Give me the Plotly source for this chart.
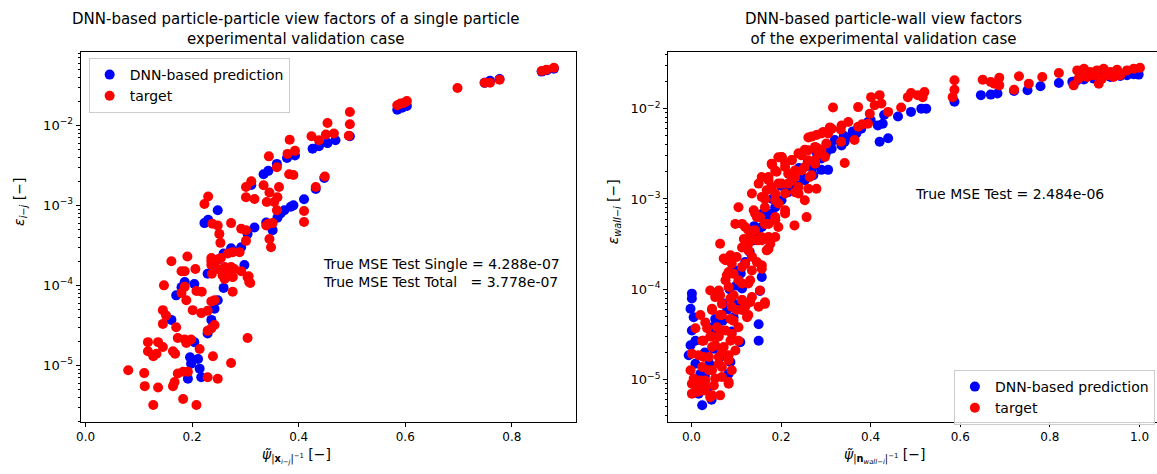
import plotly.graph_objects as go

# ---------------- data: particle-particle (left) ----------------
pp_pred = [
    (0.856, 0.047), (0.866, 0.049), (0.879, 0.051), (0.749, 0.034), (0.759, 0.036), (0.777, 0.038),
    (0.585, 0.0157), (0.594, 0.0166), (0.603, 0.0175), (0.496, 0.0073),
    (0.426, 0.0051), (0.438, 0.0055), (0.454, 0.0060), (0.469, 0.0065),
    (0.378, 0.0039), (0.393, 0.0042), (0.359, 0.0033), (0.334, 0.00245), (0.343, 0.0027),
    (0.448, 0.0022), (0.432, 0.0016), (0.410, 0.00119), (0.385, 0.00096), (0.390, 0.0010),
    (0.311, 0.0018), (0.339, 0.00061), (0.351, 0.00049), (0.360, 0.0007), (0.366, 0.00079),
    (0.373, 0.00087), (0.317, 0.00053), (0.304, 0.00044), (0.292, 0.0003), (0.298, 0.00018),
    (0.273, 0.00029), (0.259, 0.00025), (0.249, 0.00021), (0.240, 0.00019), (0.259, 9.3e-5),
    (0.223, 0.0006), (0.230, 0.00066), (0.248, 0.00087), (0.229, 0.00014), (0.186, 0.00011),
    (0.204, 0.000104), (0.170, 7.5e-5), (0.180, 9.5e-5), (0.248, 6.5e-5), (0.242, 5.1e-5),
    (0.236, 3.7e-5), (0.229, 2.5e-5), (0.161, 3.7e-5), (0.204, 1.95e-5), (0.196, 1.26e-5),
    (0.198, 1.05e-5), (0.192, 6.8e-6), (0.214, 9.1e-6), (0.217, 7.1e-6), (0.211, 1.2e-5),
]
pp_target = [
    (0.856, 0.0478), (0.865, 0.0497), (0.879, 0.0526), (0.749, 0.0341), (0.759, 0.0341), (0.777, 0.0372),
    (0.698, 0.0293), (0.585, 0.0178), (0.591, 0.0187), (0.597, 0.019), (0.603, 0.0201),
    (0.496, 0.0147), (0.496, 0.0103), (0.494, 0.0074), (0.454, 0.0107), (0.466, 0.0079), (0.451, 0.0077),
    (0.424, 0.0073), (0.438, 0.0065), (0.383, 0.0066), (0.379, 0.0044), (0.393, 0.0048),
    (0.344, 0.0041), (0.359, 0.003), (0.382, 0.00245), (0.390, 0.0024), (0.449, 0.0023), (0.432, 0.0017),
    (0.410, 0.00085), (0.410, 0.00062), (0.334, 0.00178), (0.345, 0.00145), (0.340, 0.0011),
    (0.360, 0.00126), (0.363, 0.0017), (0.354, 0.0011), (0.359, 0.00087), (0.343, 0.00059),
    (0.351, 0.0006), (0.339, 0.00056), (0.345, 0.00038), (0.348, 0.0003),
    (0.301, 0.0017), (0.311, 0.002), (0.301, 0.00126), (0.317, 0.0012),
    (0.273, 0.0006), (0.292, 0.00051), (0.301, 0.00049), (0.301, 0.00036),
    (0.254, 0.00022), (0.267, 0.00025), (0.276, 0.00026), (0.236, 0.0002), (0.241, 0.00017),
    (0.248, 0.00016), (0.237, 0.00014), (0.267, 0.000155), (0.276, 0.000127), (0.261, 0.00012),
    (0.279, 0.00016), (0.304, 0.000126), (0.307, 0.00011), (0.276, 8.3e-5),
    (0.223, 0.00104), (0.230, 0.00129), (0.238, 0.00059), (0.248, 0.00056), (0.251, 0.00044),
    (0.253, 0.00034), (0.161, 2.0e-4), (0.191, 2.3e-4), (0.180, 1.5e-4), (0.186, 1.5e-4),
    (0.206, 1.6e-4), (0.147, 1.0e-4), (0.186, 9.6e-5), (0.180, 8e-5), (0.189, 6.5e-5),
    (0.208, 8.5e-5), (0.218, 8.3e-5), (0.236, 2.2e-4), (0.248, 2.1e-4), (0.242, 1.7e-4),
    (0.236, 1.8e-4), (0.261, 1.7e-4), (0.273, 1.7e-4), (0.270, 1.4e-4), (0.257, 1.33e-4),
    (0.276, 1.27e-4), (0.292, 1.5e-4), (0.306, 1.3e-4), (0.309, 1.07e-4), (0.289, 2.6e-4),
    (0.201, 4.9e-5), (0.217, 4.5e-5), (0.229, 4.8e-5), (0.242, 6.5e-5), (0.236, 6.3e-5),
    (0.145, 4.9e-5), (0.151, 4.2e-5), (0.145, 3.3e-5), (0.170, 3.0e-5), (0.229, 2.7e-5),
    (0.242, 3.2e-5), (0.236, 2.9e-5), (0.173, 2.2e-5), (0.186, 2.1e-5), (0.198, 2.1e-5),
    (0.189, 1.9e-5), (0.214, 1.6e-5), (0.117, 1.95e-5), (0.136, 1.95e-5), (0.145, 1.7e-5),
    (0.117, 1.5e-5), (0.133, 1.4e-5), (0.127, 1.3e-5), (0.164, 1.5e-5), (0.168, 1.4e-5),
    (0.304, 2.2e-5), (0.239, 1.3e-5), (0.273, 1.07e-5), (0.080, 8.7e-6), (0.110, 8e-6),
    (0.173, 7.9e-6), (0.183, 8.3e-6), (0.192, 8.3e-6), (0.229, 7.1e-6), (0.248, 6.8e-6),
    (0.111, 5.5e-6), (0.136, 5.3e-6), (0.164, 5.5e-6), (0.167, 6.2e-6), (0.183, 3.8e-6),
    (0.127, 3.2e-6), (0.208, 3.2e-6),
]

# ---------------- data: particle-wall (right) ----------------
pw_pred = [
    (0.587, 0.0119), (0.646, 0.0141), (0.668, 0.0143), (0.683, 0.0147), (0.720, 0.0157),
    (0.750, 0.016), (0.779, 0.0177), (0.820, 0.0192), (0.861, 0.0206), (0.898, 0.0215),
    (0.935, 0.0224), (0.972, 0.0234), (0.998, 0.0238), (0.876, 0.021), (0.913, 0.022),
    (0.957, 0.023), (0.987, 0.024), (0.850, 0.0198),
    (0.461, 0.0082), (0.490, 0.0092), (0.513, 0.010), (0.524, 0.010), (0.394, 0.0071),
    (0.416, 0.0065), (0.427, 0.0068), (0.420, 0.0043), (0.439, 0.0047), (0.379, 0.006),
    (0.368, 0.0053), (0.357, 0.0049), (0.342, 0.0043), (0.320, 0.0045), (0.313, 0.0036),
    (0.335, 0.0039), (0.305, 0.0021), (0.290, 0.0021), (0.272, 0.00183), (0.253, 0.00161),
    (0.235, 0.00142), (0.216, 0.00119), (0.201, 0.00097), (0.187, 0.00081), (0.179, 0.00069),
    (0.168, 0.00058), (0.157, 0.00049), (0.146, 0.00041), (0.139, 0.00035),
    (0.220, 0.0013), (0.250, 0.0017), (0.270, 0.0022), (0.290, 0.0028), (0.300, 0.0032),
    (0.001, 8.95e-5), (0.001, 7.9e-5), (-0.002, 6.1e-5), (0.005, 4.9e-5), (0.001, 3.5e-5),
    (-0.002, 2.4e-5), (0.009, 2.7e-5), (-0.006, 1.86e-5), (0.009, 1.5e-5), (0.020, 1.16e-5),
    (0.024, 9.0e-6), (0.016, 7.0e-6), (0.024, 5.2e-6), (0.157, 1.37e-4), (0.153, 9.6e-5),
    (0.150, 4.1e-5), (0.150, 2.7e-5), (0.109, 2.6e-5), (0.090, 3.4e-5), (0.094, 4.9e-5),
    (0.101, 6.7e-5), (0.053, 4.7e-5), (0.046, 3.8e-5), (0.064, 1.78e-5), (0.087, 1.57e-5),
    (0.083, 1.16e-5), (0.113, 1.02e-4), (0.120, 2.0e-4), (0.130, 2.6e-4), (0.110, 1.5e-4),
    (0.100, 1.1e-4), (0.090, 8e-5), (0.080, 6e-5), (0.070, 4.5e-5), (0.060, 3e-5),
    (0.050, 2.2e-5), (0.040, 1.5e-5), (0.030, 1.1e-5), (0.035, 8e-6), (0.045, 6e-6),
    (0.030, 2.0e-5), (0.050, 3.5e-5), (0.070, 7e-5), (0.085, 1.0e-4), (0.100, 1.6e-4),
    (0.120, 3.0e-4), (0.140, 5.0e-4), (0.160, 7.0e-4), (0.180, 1.0e-3), (0.200, 1.4e-3),
    (0.240, 2.2e-3), (0.260, 2.6e-3), (0.280, 3.2e-3), (0.310, 3.8e-3), (0.340, 5.0e-3),
    (0.360, 5.6e-3), (0.400, 7.5e-3), (0.430, 8.5e-3),
]
pw_target = [
    (0.861, 0.0265), (0.876, 0.0277), (0.890, 0.0255), (0.905, 0.0265), (0.920, 0.0277),
    (0.935, 0.0255), (0.950, 0.027), (0.972, 0.0265), (0.987, 0.0277), (1.001, 0.0284),
    (0.864, 0.0215), (0.883, 0.0224), (0.898, 0.0234), (0.909, 0.0189), (0.853, 0.0181),
    (0.927, 0.0234), (0.942, 0.0224), (0.957, 0.0234), (0.868, 0.0244), (0.916, 0.0215),
    (0.820, 0.0248), (0.783, 0.0224), (0.753, 0.0189), (0.731, 0.0228), (0.720, 0.0162),
    (0.687, 0.022), (0.668, 0.0197), (0.650, 0.0209), (0.676, 0.0189), (0.687, 0.0181),
    (0.587, 0.0206), (0.587, 0.0162), (0.583, 0.0134), (0.520, 0.0153), (0.505, 0.0141),
    (0.490, 0.0149), (0.516, 0.0134), (0.483, 0.0134), (0.468, 0.0103), (0.420, 0.0141),
    (0.401, 0.0134), (0.424, 0.0114), (0.439, 0.0092), (0.409, 0.0109), (0.398, 0.0088),
    (0.372, 0.0104), (0.381, 0.0067), (0.316, 0.0103), (0.350, 0.0071), (0.333, 0.0059),
    (0.309, 0.0062), (0.294, 0.0055), (0.279, 0.0051), (0.334, 0.0043), (0.364, 0.0045),
    (0.342, 0.0025), (0.261, 0.0048), (0.253, 0.0035), (0.239, 0.0032), (0.224, 0.0027),
    (0.209, 0.0025), (0.194, 0.0029), (0.180, 0.0024), (0.202, 0.0029), (0.172, 0.00175),
    (0.150, 0.00148), (0.157, 0.00105), (0.190, 0.002), (0.168, 0.00125), (0.194, 0.00148),
    (0.216, 0.0019), (0.253, 0.00097), (0.257, 0.00063), (0.230, 0.00051), (0.279, 0.0013),
    (0.239, 0.00136), (0.105, 0.00081), (0.098, 0.00053), (0.113, 0.00053), (0.127, 0.00045),
    (0.139, 0.00075), (0.146, 0.00063), (0.157, 0.00038), (0.176, 0.00032), (0.194, 0.00049),
    (0.064, 0.00032), (0.113, 0.00029), (0.127, 0.00027), (0.146, 0.00035), (0.168, 0.00027),
    (0.117, 0.00036), (0.135, 0.00023), (0.246, 0.00207), (0.261, 0.00268), (0.276, 0.00246),
    (0.283, 0.00318), (0.231, 0.00175), (0.216, 0.00148), (0.239, 0.00115), (0.264, 0.00175),
    (0.290, 0.00346), (0.301, 0.0041), (0.305, 0.0053), (0.276, 0.00377), (0.194, 0.00089),
    (0.209, 0.00075), (0.187, 0.00063), (0.172, 0.00053), (0.164, 0.00081), (0.153, 0.00063),
    (0.209, 0.00115), (0.187, 0.00115),
    (0.072, 2.19e-4), (0.090, 1.92e-4), (0.113, 1.77e-4), (0.135, 1.62e-4), (0.157, 1.69e-4),
    (0.083, 1.55e-4), (0.105, 1.26e-4), (0.127, 1.16e-4), (0.153, 9.7e-5), (0.076, 1.26e-4),
    (0.061, 9.7e-5), (0.042, 9.7e-5), (0.053, 8.2e-5), (0.087, 7.9e-5), (0.113, 7.6e-5),
    (0.135, 8.2e-5), (0.120, 6.4e-5), (0.046, 6.1e-5), (0.068, 5.2e-5), (0.101, 5.9e-5),
    (0.124, 4.9e-5), (0.150, 6.4e-5), (0.164, 6.9e-5), (0.105, 3.8e-5), (0.094, 4.5e-5),
    (0.076, 3.5e-5), (0.087, 2.7e-5), (0.057, 3.8e-5), (0.042, 3.0e-5), (0.035, 3.7e-5),
    (0.009, 3.7e-5), (0.024, 2.7e-5), (0.001, 1.94e-5), (-0.002, 1.27e-5), (0.001, 9.0e-6),
    (0.013, 7.3e-6), (0.020, 9.8e-6), (0.039, 1.27e-5), (0.061, 1.5e-5), (0.050, 8.6e-6),
    (0.068, 1.07e-5), (0.083, 9.0e-6), (0.064, 6.7e-6), (0.042, 6.4e-6), (0.031, 7.6e-6),
    (0.090, 1.27e-5), (0.098, 2.1e-5), (0.068, 2.1e-5), (0.046, 2.3e-5), (0.083, 1.64e-5),
    (0.027, 1.78e-5), (0.061, 3.0e-5),
    (0.087, 2.38e-4), (0.076, 2.1e-4), (0.101, 2.28e-4), (0.124, 2.95e-4), (0.131, 3.8e-4),
    (0.157, 3.5e-4), (0.172, 2.8e-4), (0.187, 3.8e-4), (0.120, 1.92e-4), (0.146, 2.0e-4),
    (0.157, 1.85e-4), (0.079, 1.43e-4), (0.094, 1.49e-4), (0.113, 1.16e-4), (0.131, 1.26e-4),
    (0.083, 1.06e-4), (0.064, 8.6e-5), (0.094, 8.6e-5), (0.113, 7.6e-5), (0.131, 7.2e-5),
    (0.068, 6.9e-5), (0.090, 6.4e-5), (0.046, 5.9e-5), (0.020, 5.2e-5), (0.031, 4.3e-5),
    (0.064, 5.2e-5), (0.087, 4.7e-5), (0.113, 5.9e-5), (0.127, 5.2e-5), (0.164, 7.2e-5),
    (0.027, 2.7e-5), (0.046, 3.0e-5), (0.068, 3.5e-5), (0.090, 3.2e-5), (0.105, 2.7e-5),
    (0.053, 2.4e-5), (0.072, 2.3e-5), (0.016, 1.86e-5), (0.039, 1.78e-5), (0.061, 1.78e-5),
    (0.083, 1.86e-5), (0.024, 1.38e-5), (0.046, 1.27e-5), (0.068, 1.38e-5), (0.005, 1.03e-5),
    (0.031, 9.8e-6), (0.053, 1.03e-5), (0.083, 9.4e-6), (0.001, 7.0e-6), (0.024, 7.6e-6),
    (0.046, 6.7e-6), (0.009, 8.6e-6), (0.031, 8.3e-6),
    (0.179, 2.46e-3), (0.201, 2.92e-3), (0.224, 2.68e-3), (0.246, 3.04e-3), (0.261, 3.46e-3),
    (0.283, 3.6e-3), (0.157, 1.75e-3), (0.172, 1.61e-3), (0.187, 2.07e-3), (0.209, 2.26e-3),
    (0.231, 2.07e-3), (0.253, 2.26e-3), (0.276, 2.68e-3), (0.298, 2.92e-3), (0.135, 1.15e-3),
    (0.179, 1.36e-3), (0.201, 1.48e-3), (0.224, 1.61e-3), (0.268, 1.83e-3), (0.142, 6.9e-4),
    (0.164, 1.0e-3), (0.187, 9.7e-4), (0.231, 1.19e-3), (0.261, 1.3e-3), (0.120, 4.9e-4),
    (0.142, 4.5e-4), (0.164, 5.3e-4), (0.187, 5.8e-4), (0.209, 6.9e-4), (0.127, 3.2e-4),
    (0.150, 3.5e-4), (0.172, 3.8e-4), (0.290, 5.3e-3), (0.313, 6.0e-3), (0.335, 6.5e-3),
    (0.372, 6.3e-3), (0.394, 6.8e-3), (0.268, 4.9e-3),
]

x_ticks_left = [0.0, 0.2, 0.4, 0.6, 0.8]
x_ticks_right = [0.0, 0.2, 0.4, 0.6, 0.8, 1.0]
y_decades = [1e-5, 1e-4, 1e-3, 1e-2]
y_decade_labels = ["10<sup>\u22125</sup>", "10<sup>\u22124</sup>", "10<sup>\u22123</sup>", "10<sup>\u22122</sup>"]
minor_vals = [k * 10.0 ** e for e in range(-7, 0) for k in range(2, 10)]

W, H = 1157, 474
FONT = "DejaVu Sans"
BLUE, RED = "#0000ff", "#ff0000"


def px_x(p):
    return p / W


def px_y(p):
    return 1 - p / H


def unzip(pairs):
    return [p[0] for p in pairs], [p[1] for p in pairs]


fig = go.Figure()
for pairs, name, color, xa, ya, lg in [
    (pp_pred, "DNN-based prediction", BLUE, "x", "y", "legend"),
    (pp_target, "target", RED, "x", "y", "legend"),
    (pw_pred, "DNN-based prediction", BLUE, "x2", "y2", "legend2"),
    (pw_target, "target", RED, "x2", "y2", "legend2"),
]:
    xs, ys = unzip(pairs)
    fig.add_trace(go.Scatter(
        x=xs, y=ys, mode="markers", name=name, xaxis=xa, yaxis=ya, legend=lg,
        marker=dict(color=color, size=10, line=dict(width=0)),
    ))

axis_common = dict(
    showline=True, linecolor="black", linewidth=1, ticks="outside", ticklen=4,
    tickcolor="black", showgrid=False, zeroline=False,
)
xtickfont = dict(family=FONT, size=12, color="black")
ytickfont = dict(family=FONT, size=13, color="black")
minor_cfg = dict(tickvals=minor_vals, ticks="outside", ticklen=2, tickcolor="black")

fig.update_layout(
    width=W, height=H, margin=dict(l=0, r=0, t=0, b=0),
    paper_bgcolor="white", plot_bgcolor="white",
    font=dict(family=FONT, color="black"),
    xaxis=dict(domain=[px_x(76), px_x(573)], range=[-0.0093, 0.9196], anchor="y",
               tickvals=x_ticks_left, ticktext=[f"{v:.1f}" for v in x_ticks_left],
               mirror=True, tickfont=xtickfont, **axis_common),
    yaxis=dict(domain=[px_y(422), px_y(52)], type="log", range=[-5.708, -1.083], anchor="x",
               tickvals=y_decades, ticktext=y_decade_labels, mirror=True,
               minor=minor_cfg, tickfont=ytickfont, **axis_common),
    xaxis2=dict(domain=[px_x(666), 1.0], range=[-0.052, 1.039], anchor="y2",
                tickvals=x_ticks_right, ticktext=[f"{v:.1f}" for v in x_ticks_right],
                mirror=True, tickfont=xtickfont, **axis_common),
    yaxis2=dict(domain=[px_y(422), px_y(52)], type="log", range=[-5.469, -1.373], anchor="x2",
                tickvals=y_decades, ticktext=y_decade_labels, mirror=False,
                minor=minor_cfg, tickfont=ytickfont, **axis_common),
    legend=dict(x=px_x(84), y=px_y(58), xanchor="left", yanchor="top",
                bgcolor="rgba(255,255,255,0.8)", bordercolor="#cccccc", borderwidth=1,
                font=dict(family=FONT, size=14, color="black")),
    legend2=dict(x=px_x(953), y=px_y(370), xanchor="left", yanchor="top",
                 bgcolor="rgba(255,255,255,0.8)", bordercolor="#cccccc", borderwidth=1,
                 font=dict(family=FONT, size=14, color="black")),
    showlegend=True,
)

ann = [
    dict(x=px_x(292), y=px_y(29), text="DNN-based particle-particle view factors of a single particle<br>experimental validation case",
         font=dict(size=15)),
    dict(x=px_x(882), y=px_y(29), text="DNN-based particle-wall view factors<br>of the experimental validation case",
         font=dict(size=15)),
    dict(x=px_x(293), y=px_y(456),
         text="<i>\u03c8\u0303</i><sub>|<b>x</b><sub><i>i\u2212j</i></sub>|<sup>\u22121</sup></sub> [\u2212]",
         font=dict(size=14)),
    dict(x=px_x(883), y=px_y(456),
         text="<i>\u03c8\u0303</i><sub>|<b>n</b><sub><i>wall\u2212i</i></sub>|<sup>\u22121</sup></sub> [\u2212]",
         font=dict(size=14)),
    dict(x=px_x(15), y=px_y(202), text="<i>\u03b5</i><sub><i>i\u2212j</i></sub> [\u2212]",
         textangle=-90, font=dict(size=14)),
    dict(x=px_x(612), y=px_y(212), text="<i>\u03b5</i><sub><i>wall\u2212i</i></sub> [\u2212]",
         textangle=-90, font=dict(size=14)),
    dict(x=px_x(317), y=px_y(273), xanchor="left",
         text="True MSE Test Single = 4.288e-07<br>True MSE Test Total\u00a0\u00a0\u00a0= 3.778e-07",
         align="left", font=dict(size=14)),
    dict(x=px_x(912), y=px_y(194), xanchor="left", text="True MSE Test = 2.484e-06",
         font=dict(size=14)),
]
for a in ann:
    a.setdefault("xanchor", "center")
    a.update(xref="paper", yref="paper", yanchor="middle", showarrow=False)
    a["font"] = dict(family=FONT, color="black", **a["font"])
fig.update_layout(annotations=ann)

fig.write_html("out.html")
